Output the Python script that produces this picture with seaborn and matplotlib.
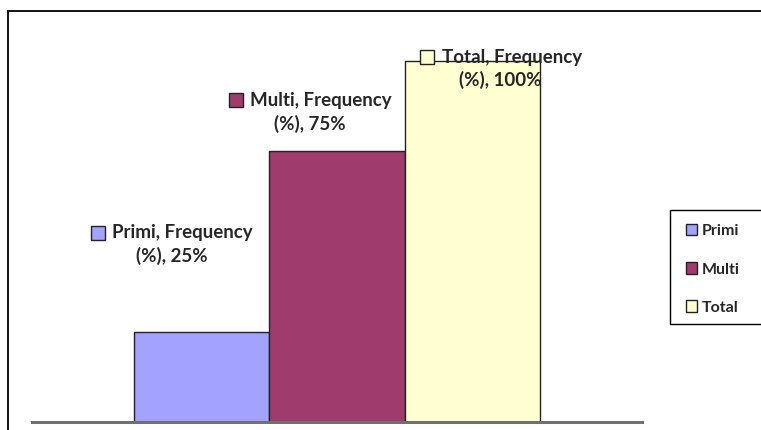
import matplotlib
matplotlib.use("Agg")
import matplotlib.pyplot as plt
from matplotlib.patches import Rectangle
from matplotlib.offsetbox import AnnotationBbox, DrawingArea, HPacker, VPacker, TextArea
import seaborn as sns
import pandas as pd

series = ["Primi", "Multi", "Total"]
values = [25, 75, 100]
category = "Frequency (%)"
colors = ["#A3A3FF", "#9F3B6D", "#FFFFD2"]

sns.set_theme(style="white")
plt.rcParams["font.family"] = ["Lato", "DejaVu Sans"]

W, H = 761, 430
fig = plt.figure(figsize=(W / 100, H / 100), dpi=100)

# outer chart border (runs off the right and bottom edges)
fig.patches.append(Rectangle((8 / W, -0.1), 1.2, 1 - 11 / H + 0.1,
                             transform=fig.transFigure, fill=False,
                             edgecolor="black", lw=1.3, zorder=0))

ax = fig.add_axes([32 / W, (H - 422) / H, (642 - 32) / W, (422 - 25) / H])
df = pd.DataFrame({"cat": [category] * 3, "series": series, "value": values})
sns.barplot(data=df, x="cat", y="value", hue="series", hue_order=series,
            palette=colors, width=0.667, edgecolor="#222222", linewidth=1.0,
            saturation=1, ax=ax, legend=False)
ax.set_xlim(-0.5, 0.5)
ax.set_ylim(0, 100 * 397 / 361)
ax.set_xticks([])
ax.set_yticks([])
ax.set_xlabel("")
ax.set_ylabel("")
for s in ["left", "right", "top"]:
    ax.spines[s].set_visible(False)
ax.spines["bottom"].set_color("#707070")
ax.spines["bottom"].set_linewidth(2.2)
ax.patch.set_alpha(0)

txt_kw = dict(color="#262626", fontsize=13.5, fontweight="bold")

def key_square(color):
    da = DrawingArea(11, 11, 0, 0)
    da.add_artist(Rectangle((0.5, 0.5), 10, 10, facecolor=color,
                            edgecolor="#222222", lw=1.0))
    return da

# data labels with legend keys, offset from each bar top
offsets = [(-30, 87), (-27, 39), (28, -8)]
for bar, name, val, col, off in zip(ax.patches, series, values, colors, offsets):
    line1 = HPacker(children=[key_square(col),
                              TextArea(f"{name}, Frequency", textprops=txt_kw)],
                    align="center", pad=0, sep=5)
    line2 = TextArea(f"(%), {val}%", textprops=txt_kw)
    box = VPacker(children=[line1, line2], align="center", pad=0, sep=4)
    xc = bar.get_x() + bar.get_width() / 2
    ab = AnnotationBbox(box, (xc, bar.get_height()), xybox=off,
                        xycoords="data", boxcoords="offset pixels",
                        frameon=False, box_alignment=(0.5, 0.5),
                        annotation_clip=False)
    ax.add_artist(ab)

# legend box, running past the right edge of the figure
fig.patches.append(Rectangle((670 / W, 1 - 324 / H), 0.2, (324 - 210) / H,
                             transform=fig.transFigure, facecolor="white",
                             edgecolor="black", lw=1.0, zorder=3))
handles = [Rectangle((0, 0), 1, 1, facecolor=c, edgecolor="#222222", lw=1.0)
           for c in colors]
leg = fig.legend(handles, series, loc="upper left",
                 bbox_to_anchor=(683 / W, 1 - 221 / H), borderaxespad=0,
                 frameon=False,
                 handlelength=0.7, handleheight=0.7, handletextpad=0.3,
                 labelspacing=1.5, borderpad=0.2,
                 prop={"family": ["Lato", "DejaVu Sans"], "weight": "bold",
                       "size": 11.5})
leg.set_zorder(4)
for t in leg.get_texts():
    t.set_color("#262626")

fig.savefig("out.png", dpi=100)
